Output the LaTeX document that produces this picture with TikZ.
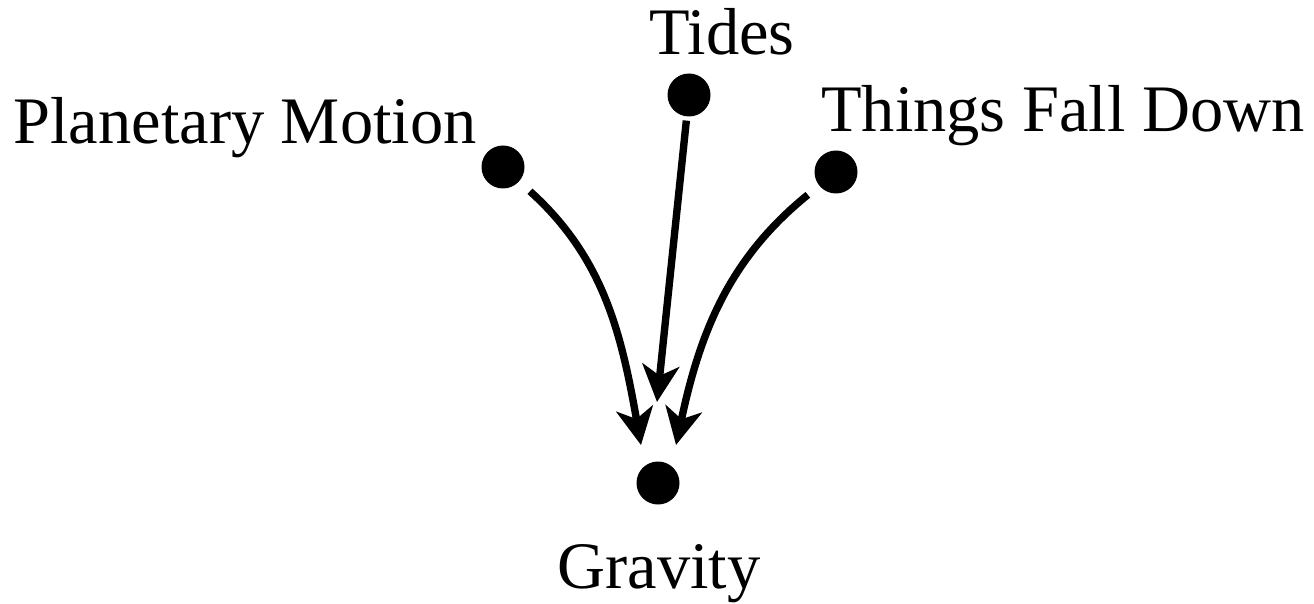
\documentclass[tikz,border=0pt]{standalone}
\usepackage{fontspec}
\setmainfont{Liberation Serif}
\usepackage{tikz}
\usetikzlibrary{arrows.meta,positioning}

\begin{document}
\begin{tikzpicture}[
    dot/.style={circle,fill=black,inner sep=0pt,minimum size=0.43cm},
    lbl/.style={anchor=base,inner sep=0pt,font=\fontsize{18.9}{22}\selectfont},
    arr/.style={line width=2.1pt,-{Stealth[length=10.5pt,width=10.5pt,inset=3pt]}}
  ]
  \useasboundingbox (0,0) rectangle (13.14,6.03);
  % the four events
  \node[dot] (planets) at (5.03,4.36) {};
  \node[dot] (tides) at (6.89,5.08) {};
  \node[dot] (falling) at (8.36,4.31) {};
  \node[dot] (gravity) at (6.58,1.20) {};
  \node[lbl] (planetslbl) at (2.45,4.59) {Planetary Motion};
  \node[lbl] (tideslbl) at (7.22,5.48) {Tides};
  \node[lbl] (fallinglbl) at (10.63,4.71) {Things Fall Down};
  \node[lbl] (gravitylbl) at (6.59,0.15) {Gravity};
  % arrow tips stop short of gravity
  \coordinate (tipL) at (6.41,1.58);
  \coordinate (tipM) at (6.57,2.01);
  \coordinate (tipR) at (6.76,1.58);
  \draw[arr,shorten <=4pt] (planets) to[out=-42,in=100] (tipL);
  \draw[arr,shorten <=1pt] (tides) -- (tipM);
  \draw[arr,shorten <=4pt] (falling) to[out=-141,in=78] (tipR);
\end{tikzpicture}
\end{document}
